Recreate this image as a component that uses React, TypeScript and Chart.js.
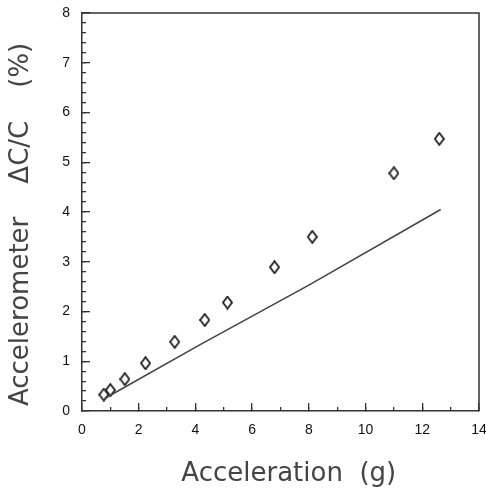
import React, { useEffect, useRef } from "react";
import { Chart, registerables } from "chart.js";

Chart.register(...registerables);

// Measured data (diamonds)
const accelG = [0.77, 1.0, 1.51, 2.24, 3.27, 4.33, 5.13, 6.79, 8.12, 11.0, 12.6];
const deltaCPct = [0.33, 0.42, 0.64, 0.96, 1.39, 1.83, 2.18, 2.89, 3.5, 4.78, 5.47];

// Model curve (solid line)
const lineG = [0.8, 4.15, 8.0, 12.65];
const linePct = [0.25, 1.33, 2.53, 4.05];

// Axis ranges / tick steps
const xRange = [0, 14];
const yRange = [0, 8];
const xMajorStep = 2;
const xMinorStep = 1;
const yMajorStep = 1;
const yMinorStep = 0.2;

const xTitle = "  Acceleration  (g)";
const yTitle = "Accelerometer    ΔC/C    (%)   ";

function makeDiamond(): HTMLCanvasElement {
  const c = document.createElement("canvas");
  c.width = 11;
  c.height = 14;
  const g = c.getContext("2d")!;
  g.strokeStyle = "#222";
  g.lineWidth = 1.8;
  g.beginPath();
  g.moveTo(5.5, 1);
  g.lineTo(10, 7);
  g.lineTo(5.5, 13);
  g.lineTo(1, 7);
  g.closePath();
  g.stroke();
  return c;
}

const framePlugin = {
  id: "frame",
  afterDatasetsDraw(chart: any) {
    const { ctx, chartArea } = chart;
    ctx.save();
    ctx.strokeStyle = "#333";
    ctx.lineWidth = 1.5;
    ctx.beginPath();
    ctx.moveTo(chartArea.left, chartArea.top);
    ctx.lineTo(chartArea.right, chartArea.top);
    ctx.lineTo(chartArea.right, chartArea.bottom);
    ctx.stroke();
    ctx.restore();
  },
};

function zeroPad(s: any) {
  s.paddingTop = 0;
  s.paddingBottom = 0;
  s.paddingLeft = 0;
  s.paddingRight = 0;
}

export default function App() {
  const ref = useRef<HTMLCanvasElement | null>(null);
  useEffect(() => {
    if (!ref.current) return;
    const diamond = makeDiamond();
    const tickFont = { family: "'Liberation Sans', Arial, sans-serif", size: 14 };
    const chart = new Chart(ref.current, {
      type: "scatter",
      data: {
        datasets: [
          {
            label: "model",
            data: lineG.map((x, i) => ({ x, y: linePct[i] })),
            showLine: true,
            borderColor: "#444",
            borderWidth: 1.6,
            pointRadius: 0,
            fill: false,
          },
          {
            label: "measured",
            data: accelG.map((x, i) => ({ x, y: deltaCPct[i] })),
            pointStyle: diamond as any,
            pointRadius: 6,
            showLine: false,
          },
        ],
      },
      options: {
        animation: false,
        responsive: false,
        maintainAspectRatio: false,
        layout: { padding: { top: 13, right: 6, left: 0, bottom: 0 } },
        plugins: { legend: { display: false }, tooltip: { enabled: false } },
        scales: {
          x: {
            type: "linear",
            position: "bottom",
            min: xRange[0],
            max: xRange[1],
            weight: 1,
            ticks: {
              stepSize: xMajorStep,
              color: "#111",
              font: tickFont,
              padding: 19,
              maxRotation: 0,
            },
            grid: { drawOnChartArea: false, drawTicks: true, tickLength: -8, color: "#333", lineWidth: 1.3 },
            border: { display: true, color: "#333", width: 1.5 },
            title: {
              display: true,
              text: xTitle,
              color: "#444",
              font: { family: "'DejaVu Sans', sans-serif", size: 26, weight: "normal" as any },
              padding: { top: 0, bottom: 3 },
            },
            afterFit: (s: any) => {
              s.height = 82;
              zeroPad(s);
            },
          },
          xMinor: {
            type: "linear",
            position: "bottom",
            min: xRange[0],
            max: xRange[1],
            weight: 0,
            ticks: { stepSize: xMinorStep, display: false },
            grid: { drawOnChartArea: false, drawTicks: true, tickLength: -4, color: "#333", lineWidth: 1.3 },
            border: { display: false },
            afterFit: (s: any) => {
              s.height = 0;
              zeroPad(s);
            },
          },
          y: {
            type: "linear",
            position: "left",
            min: yRange[0],
            max: yRange[1],
            weight: 1,
            ticks: {
              stepSize: yMajorStep,
              color: "#111",
              font: tickFont,
              padding: 20,
            },
            grid: { drawOnChartArea: false, drawTicks: true, tickLength: -8, color: "#333", lineWidth: 1.3 },
            border: { display: true, color: "#333", width: 1.5 },
            title: {
              display: true,
              text: yTitle,
              color: "#444",
              font: { family: "'DejaVu Sans', sans-serif", size: 26, weight: "normal" as any },
              padding: { top: 6, bottom: 0 },
            },
            afterFit: (s: any) => {
              s.width = 82;
              zeroPad(s);
            },
          },
          yMinor: {
            type: "linear",
            position: "left",
            min: yRange[0],
            max: yRange[1],
            weight: 0,
            ticks: { stepSize: yMinorStep, display: false },
            grid: { drawOnChartArea: false, drawTicks: true, tickLength: -4, color: "#333", lineWidth: 1.3 },
            border: { display: false },
            afterFit: (s: any) => {
              s.width = 0;
              zeroPad(s);
            },
          },
        },
      },
      plugins: [framePlugin],
    });
    return () => chart.destroy();
  }, []);
  return (
    <div style={{ position: "fixed", left: 0, top: 0, width: 486, height: 493, background: "#fff" }}>
      <canvas ref={ref} width={486} height={493} style={{ width: 486, height: 493, display: "block" }} />
    </div>
  );
}
